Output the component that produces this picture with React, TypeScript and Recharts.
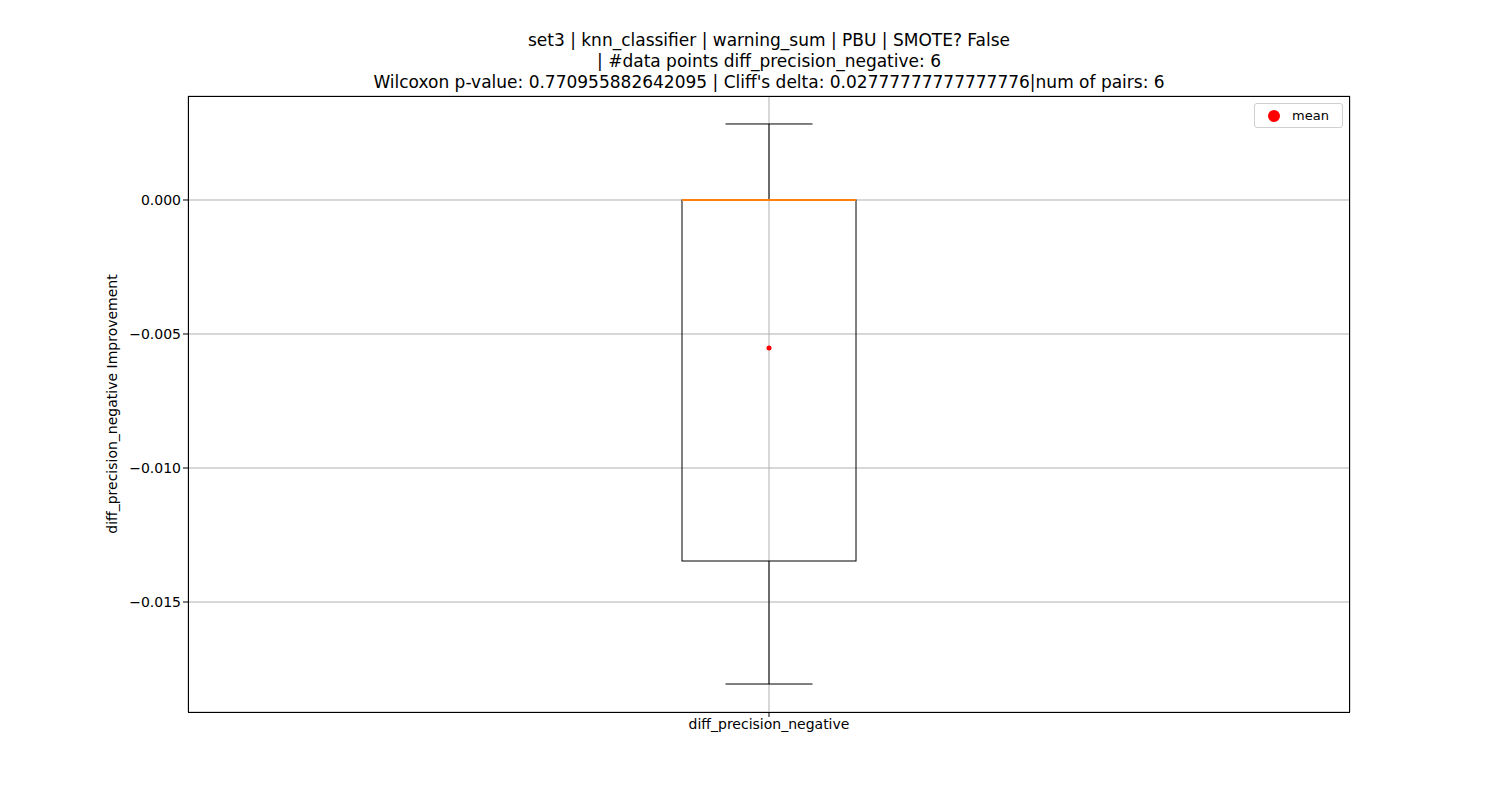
import { ComposedChart, Bar, Scatter, XAxis, YAxis, CartesianGrid } from "recharts";

const categories = ["diff_precision_negative"];
const whiskerLow = [-0.01806];
const q1 = [-0.01347];
const median = [0.0];
const q3 = [0.0];
const whiskerHigh = [0.002836];
const means = [-0.00552];
const yTicks = [-0.015, -0.01, -0.005, 0];

const titleLines = [
  "set3 | knn_classifier | warning_sum | PBU | SMOTE? False",
  "| #data points diff_precision_negative: 6",
  "Wilcoxon p-value: 0.770955882642095 | Cliff's delta: 0.02777777777777776|num of pairs: 6",
];

const data = categories.map((name, i) => ({
  name,
  range: [whiskerLow[i], whiskerHigh[i]],
  lo: whiskerLow[i],
  hi: whiskerHigh[i],
  q1: q1[i],
  q3: q3[i],
  median: median[i],
  mean: means[i],
}));

const font = "DejaVu Sans, sans-serif";

function BoxShape(props: any) {
  const { x, y, width, height, payload } = props;
  const { lo, hi } = payload;
  const py = (v: number) => y + ((hi - v) / (hi - lo)) * height;
  const cx = x + width / 2;
  const capW = width / 2;
  return (
    <g>
      <line x1={cx} x2={cx} y1={py(hi)} y2={py(payload.q3)} stroke="#000" />
      <line x1={cx} x2={cx} y1={py(payload.q1)} y2={py(lo)} stroke="#000" />
      <line x1={cx - capW / 2} x2={cx + capW / 2} y1={py(hi)} y2={py(hi)} stroke="#000" />
      <line x1={cx - capW / 2} x2={cx + capW / 2} y1={py(lo)} y2={py(lo)} stroke="#000" />
      <rect x={x} y={py(payload.q3)} width={width} height={py(payload.q1) - py(payload.q3)} fill="none" stroke="#000" />
      <line x1={x} x2={x + width} y1={py(payload.median)} y2={py(payload.median)} stroke="#ff7f0e" strokeWidth={2} />
    </g>
  );
}

export default function App() {
  return (
    <div style={{ position: "relative", width: 1500, height: 800, margin: -8, background: "#fff", fontFamily: font }}>
      {titleLines.map((t, i) => (
        <div key={i} style={{ position: "absolute", left: 0, width: 1538, top: 30 + i * 21, textAlign: "center", fontSize: 17, color: "#000" }}>
          {t}
        </div>
      ))}
      <ComposedChart width={1500} height={800} data={data} margin={{ top: 96, left: 108, right: 150, bottom: 58 }}>
        <CartesianGrid stroke="#b0b0b0" strokeWidth={1} />
        <XAxis
          dataKey="name"
          height={30}
          tick={{ fill: "#000", fontSize: 14, fontFamily: font }}
          tickLine={{ stroke: "#000" }}
          axisLine={false}
          tickSize={5}
        />
        <YAxis
          width={80}
          domain={[-0.019104, 0.00388]}
          ticks={yTicks}
          tickFormatter={(v: number) => (v < 0 ? "\u2212" + Math.abs(v).toFixed(3) : v.toFixed(3))}
          tick={{ fill: "#000", fontSize: 14, fontFamily: font }}
          tickLine={{ stroke: "#000" }}
          axisLine={false}
          tickSize={5}
          allowDataOverflow
          label={{ value: "diff_precision_negative Improvement", angle: -90, position: "insideLeft", offset: 0, dx: 4, style: { fill: "#000", fontSize: 14, fontFamily: font, textAnchor: "middle" } }}
        />
        <Bar dataKey="range" barSize={174} shape={BoxShape} isAnimationActive={false} />
        <Scatter dataKey="mean" fill="#ff0000" shape={(p: any) => <circle cx={p.cx} cy={p.cy} r={2.5} fill="#ff0000" />} isAnimationActive={false} />
      </ComposedChart>
      <div style={{ position: "absolute", left: 188, top: 96, width: 1162, height: 617, border: "1px solid #000", boxSizing: "border-box", pointerEvents: "none" }} />
      <div style={{ position: "absolute", left: 1254, top: 103, width: 89, height: 25, border: "1px solid #d0d0d0", borderRadius: 3, boxSizing: "border-box", background: "#fff", display: "flex", alignItems: "center", fontSize: 13 }}>
        <span style={{ display: "inline-block", width: 12, height: 12, borderRadius: 6, background: "#ff0000", marginLeft: 13, marginRight: 12 }} />
        mean
      </div>
    </div>
  );
}
